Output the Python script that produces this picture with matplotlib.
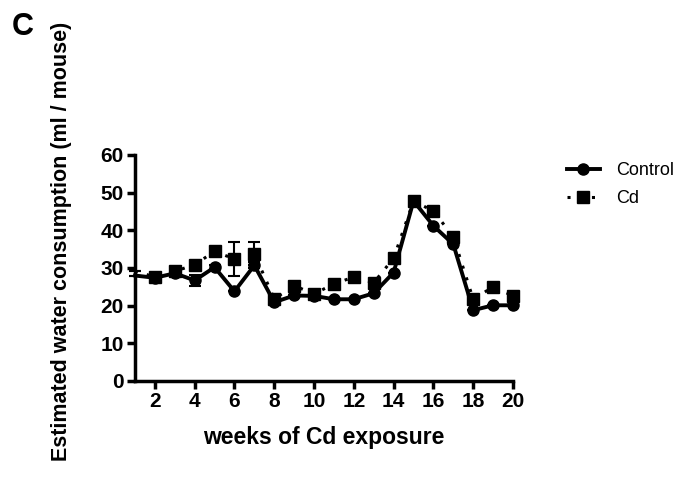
"""
Water consumption over weeks of Cd exposure.
"""

import numpy as np
import matplotlib
matplotlib.use('Agg')
import matplotlib.pyplot as plt

plt.rcParams['font.family'] = ['Liberation Sans', 'DejaVu Sans']

# data
weeks = np.arange(1, 21)
control = [28.0, 27.4, 28.6, 26.7, 30.2, 23.8, 30.7, 20.9, 22.7, 22.6,
           21.7, 21.7, 23.3, 28.8, 47.8, 41.2, 36.3, 18.8, 20.1, 20.1]
control_err = [0, 0.5, 0.6, 1.5, 0.5, 0, 0.8, 0, 0, 0,
               0, 0, 0, 0, 0, 0, 0, 0, 0, 0]
cd = [29.2, 27.6, 29.1, 30.9, 34.4, 32.4, 33.8, 21.8, 25.3, 23.1,
      25.8, 27.6, 26.1, 32.6, 47.8, 45.1, 38.3, 21.7, 25.0, 22.6]
cd_err = [0, 0, 0, 0, 0, 4.5, 3.0, 0, 0, 0,
          0, 0, 0, 0, 0, 0, 0, 0, 0, 0]

fig = plt.figure(figsize=(6.92, 4.88), dpi=100)
ax = fig.add_axes([135 / 692, 1 - 381 / 488, 378 / 692, 226 / 488])

# error bars only
ax.errorbar(weeks, cd, yerr=cd_err, fmt='none', ecolor='black', capsize=4,
            elinewidth=1.5, capthick=1.5, clip_on=False, zorder=2)
ax.errorbar(weeks, control, yerr=control_err, fmt='none', ecolor='black', capsize=4,
            elinewidth=1.5, capthick=1.5, clip_on=False, zorder=2)

# Cd: dotted line, square markers
ax.plot(weeks, cd, color='black', ls=(0, (1, 3)), lw=2.2, marker='s', ms=8,
        markevery=slice(1, None), label='Cd', clip_on=False, zorder=3)
# control: solid line, circle markers
ax.plot(weeks, control, color='black', ls='-', lw=2.8, marker='o', ms=8,
        markevery=slice(1, None), label='Control', clip_on=False, zorder=4)

ax.set_xlim(1, 20)
ax.set_ylim(0, 60)
ax.set_xticks(np.arange(2, 21, 2))
ax.set_yticks(np.arange(0, 61, 10))

for s in ['top', 'right']:
    ax.spines[s].set_visible(False)
for s in ['left', 'bottom']:
    ax.spines[s].set_linewidth(2.5)
ax.tick_params(width=2.5, length=6, labelsize=15, pad=2)
for lab in ax.get_xticklabels() + ax.get_yticklabels():
    lab.set_fontweight('bold')

ax.set_xlabel('weeks of Cd exposure', fontsize=16.5, fontweight='bold')
ax.set_ylabel('Estimated water consumption (ml / mouse)', fontsize=15.5,
              fontweight='bold')
ax.xaxis.set_label_coords(0.5, -0.20)
ax.yaxis.set_label_coords(-0.167, 0.62)

h, l = ax.get_legend_handles_labels()
ax.legend(h[::-1], l[::-1], loc='upper left', bbox_to_anchor=(1.1, 1.04),
          frameon=False, fontsize=13, handlelength=1.8, handletextpad=0.9,
          labelspacing=0.6)

fig.text(12 / 692, 1 - 35 / 488, 'C', fontsize=22, fontweight='bold')

plt.savefig('out.png')
